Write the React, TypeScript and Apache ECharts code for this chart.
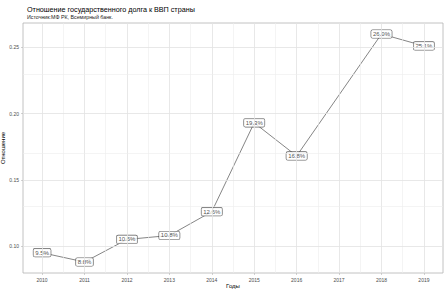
import React, { useEffect, useRef } from "react";
import * as echarts from "echarts";

const years = [2010, 2011, 2012, 2013, 2014, 2015, 2016, 2018, 2019];
const ratios = [0.095, 0.088, 0.105, 0.108, 0.126, 0.193, 0.168, 0.26, 0.251];
const xTickYears = [2010, 2011, 2012, 2013, 2014, 2015, 2016, 2017, 2018, 2019];
const xMinorGrid = [2010.5, 2011.5, 2012.5, 2013.5, 2014.5, 2015.5, 2016.5, 2017.5, 2018.5];
const yTicks = [0.1, 0.15, 0.2, 0.25];
const yMinorGrid = [0.125, 0.175, 0.225];

const FONT = "'Liberation Sans', Arial, sans-serif";

export default function App() {
  const ref = useRef<HTMLDivElement>(null);
  useEffect(() => {
    if (!ref.current) return;
    const chart = echarts.init(ref.current, undefined, { renderer: "svg" });
    const points = years.map((y, i) => [y, ratios[i]]);
    const majorLine = { color: "#e2e2e2", width: 0.8, type: "solid" as const };
    const minorLine = { color: "#ececec", width: 0.6, type: "solid" as const };
    chart.setOption({
      animation: false,
      textStyle: { fontFamily: FONT },
      title: {
        text: "Отношение государственного долга к ВВП страны",
        subtext: "Источник:МФ РК, Всемирный банк.",
        left: 22,
        top: 1,
        itemGap: 1,
        textStyle: { fontFamily: FONT, fontSize: 7.2, fontWeight: "normal", color: "#000" },
        subtextStyle: { fontFamily: FONT, fontSize: 5.3, color: "#222" },
      },
      grid: {
        left: 23,
        right: 4,
        top: 23,
        bottom: 19,
        show: true,
        borderColor: "#b3b3b3",
        borderWidth: 0.8,
        backgroundColor: "#fff",
        containLabel: false,
        outerBoundsMode: "none",
      },
      xAxis: {
        type: "value",
        min: 2009.55,
        max: 2019.45,
        name: "Годы",
        nameLocation: "middle",
        nameGap: 10,
        nameMoveOverlap: false,
        nameTextStyle: { fontFamily: FONT, fontSize: 6, color: "#000" },
        axisLine: { show: false },
        axisTick: { show: true, customValues: xTickYears, length: 2, lineStyle: { color: "#b3b3b3", width: 0.6 } },
        axisLabel: {
          customValues: xTickYears,
          fontSize: 5,
          color: "#4d4d4d",
          margin: 4,
          formatter: (v: number) => String(Math.round(v)),
        },
        splitLine: { show: false },
      },
      yAxis: {
        type: "value",
        min: 0.0797,
        max: 0.2683,
        name: "Отношение",
        nameLocation: "middle",
        nameGap: 17,
        nameRotate: 90,
        nameMoveOverlap: false,
        nameTextStyle: { fontFamily: FONT, fontSize: 6, color: "#000" },
        axisLine: { show: false },
        axisTick: { show: true, customValues: yTicks, length: 2, lineStyle: { color: "#b3b3b3", width: 0.6 } },
        axisLabel: {
          customValues: yTicks,
          fontSize: 5,
          color: "#4d4d4d",
          margin: 4,
          formatter: (v: number) => v.toFixed(2),
        },
        splitLine: { show: false },
      },
      series: [
        {
          type: "line",
          data: [],
          silent: true,
          z: 1,
          markLine: {
            silent: true,
            symbol: "none",
            label: { show: false },
            animation: false,
            data: [
              ...xTickYears.map((v) => ({ xAxis: v, lineStyle: majorLine })),
              ...xMinorGrid.map((v) => ({ xAxis: v, lineStyle: minorLine })),
              ...yTicks.map((v) => ({ yAxis: v, lineStyle: majorLine })),
              ...yMinorGrid.map((v) => ({ yAxis: v, lineStyle: minorLine })),
            ],
          },
        },
        {
          type: "line",
          data: points,
          z: 2,
          showSymbol: false,
          symbol: "none",
          lineStyle: { color: "#666", width: 0.8 },
          silent: true,
        },
        {
          type: "scatter",
          data: points,
          z: 3,
          symbolSize: 1,
          itemStyle: { color: "rgba(0,0,0,0)" },
          silent: true,
          label: {
            show: true,
            position: "inside",
            fontFamily: FONT,
            fontSize: 6,
            color: "#222",
            textBorderWidth: 0,
            backgroundColor: "#fff",
            borderColor: "#444",
            borderWidth: 0.6,
            borderRadius: 1.5,
            padding: [1.2, 1.8, 0.8, 1.8],
            formatter: (p: any) => (p.value[1] * 100).toFixed(1) + "%",
          },
        },
      ],
    });
    return () => chart.dispose();
  }, []);
  return <div ref={ref} style={{ width: 447, height: 292, position: "absolute", left: 0, top: 0, background: "#fff" }} />;
}
